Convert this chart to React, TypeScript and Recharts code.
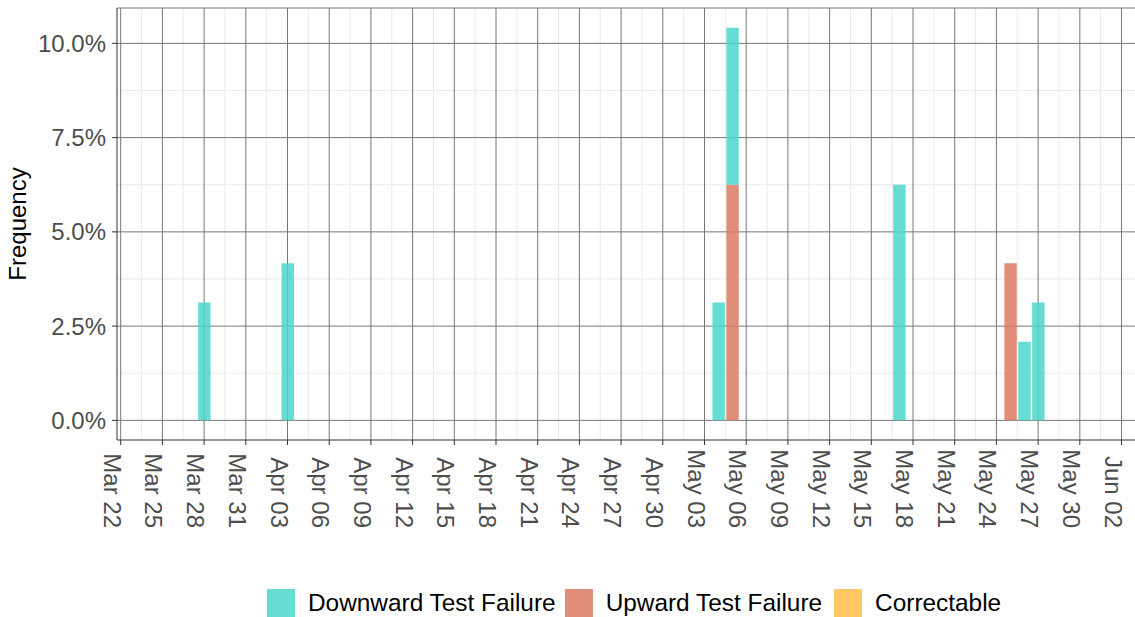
import React from "react";
import { BarChart, Bar, XAxis, YAxis, CartesianGrid } from "recharts";

// days with at least one failure (frequency in %)
const failureDates = [
  "2019-03-28",
  "2019-04-03",
  "2019-05-04",
  "2019-05-05",
  "2019-05-17",
  "2019-05-25",
  "2019-05-26",
  "2019-05-27",
];
const downwardPct = [3.125, 4.167, 3.125, 4.167, 6.25, 0, 2.083, 3.125];
const upwardPct = [0, 0, 0, 6.25, 0, 4.167, 0, 0];
const correctablePct = [0, 0, 0, 0, 0, 0, 0, 0];

const xTickLabels = [
  "Mar 22", "Mar 25", "Mar 28", "Mar 31", "Apr 03", "Apr 06", "Apr 09",
  "Apr 12", "Apr 15", "Apr 18", "Apr 21", "Apr 24", "Apr 27", "Apr 30",
  "May 03", "May 06", "May 09", "May 12", "May 15", "May 18", "May 21",
  "May 24", "May 27", "May 30", "Jun 02",
];
const yTicks = [0, 2.5, 5, 7.5, 10];
const yMinor = [1.25, 3.75, 6.25, 8.75];

const START = Date.UTC(2019, 2, 22);
const DAY = 86400000;
const toDay = (iso: string) => (Date.parse(iso + "T00:00:00Z") - START) / DAY;

const data = failureDates.map((d, i) => ({
  day: toDay(d),
  down: downwardPct[i],
  up: upwardPct[i],
  corr: correctablePct[i],
}));

const xTicks = xTickLabels.map((_, i) => i * 3);
const xMinor = xTicks.map((t) => t + 1.5);
const X_DOMAIN: [number, number] = [-0.266, 72.97];
const Y_DOMAIN: [number, number] = [-0.521, 10.938];

const DOWN = "#4BD7CA";
const UP = "#DA7A62";
const CORR = "#FFBE49";
const FONT = "'Liberation Sans', Arial, Helvetica, sans-serif";

const XTick = (props: any) => {
  const { x, y, payload } = props;
  const label = xTickLabels[Math.round(payload.value / 3)];
  return (
    <text
      x={x + (528 - y)}
      y={y + 17}
      transform={`rotate(90, ${x}, ${y})`}
      textAnchor="end"
      fill="#4d4d4d"
      fontSize={24}
      fontFamily={FONT}
    >
      {label}
    </text>
  );
};

const legendItems = [
  { name: "Downward Test Failure", color: DOWN },
  { name: "Upward Test Failure", color: UP },
  { name: "Correctable", color: CORR },
];
const legendGaps = [9, 12, 0];

export default function App() {
  return (
    <div style={{ position: "absolute", left: 0, top: 0, width: 1135, height: 617, fontFamily: FONT }}>
      <BarChart
        width={1135}
        height={617}
        data={data}
        margin={{ top: 8, right: 0, left: 0, bottom: 0 }}
      >
        <CartesianGrid
          stroke="#ebebeb"
          strokeWidth={1}
          verticalValues={xMinor}
          horizontalValues={yMinor}
        />
        <CartesianGrid
          stroke="#767676"
          strokeWidth={1}
          verticalValues={xTicks}
          horizontalValues={[...yTicks, Y_DOMAIN[1]]}
        />
        <XAxis
          type="number"
          dataKey="day"
          domain={X_DOMAIN}
          allowDataOverflow
          ticks={xTicks}
          interval={0}
          tick={<XTick />}
          tickSize={5}
          height={177}
          axisLine={{ stroke: "#333" }}
          tickLine={{ stroke: "#333" }}
        />
        <YAxis
          type="number"
          domain={Y_DOMAIN}
          allowDataOverflow
          ticks={yTicks}
          interval={0}
          width={117}
          tickSize={5}
          tickMargin={6}
          tickFormatter={(v: number) => `${v.toFixed(1)}%`}
          tick={{ fill: "#4d4d4d", fontSize: 24, fontFamily: FONT }}
          axisLine={{ stroke: "#333" }}
          tickLine={{ stroke: "#333" }}
          label={() => (
            <text
              x={26}
              y={224}
              transform="rotate(-90, 26, 224)"
              textAnchor="middle"
              fill="#000"
              fontSize={24}
              fontFamily={FONT}
            >
              Frequency
            </text>
          )}
        />
        <Bar dataKey="up" stackId="s" fill={UP} fillOpacity={0.85} barSize={12.4} isAnimationActive={false} />
        <Bar dataKey="down" stackId="s" fill={DOWN} fillOpacity={0.85} barSize={12.4} isAnimationActive={false} />
        <Bar dataKey="corr" stackId="s" fill={CORR} fillOpacity={0.85} barSize={12.4} isAnimationActive={false} />
      </BarChart>
      <div
        style={{
          position: "absolute",
          left: 267,
          top: 589,
          display: "flex",
          alignItems: "center",
          height: 28,
        }}
      >
        {legendItems.map((it, i) => (
          <div key={it.name} style={{ display: "flex", alignItems: "center", marginRight: legendGaps[i] }}>
            <div style={{ width: 28, height: 28, background: it.color, opacity: 0.85 }} />
            <span style={{ fontSize: 24.4, color: "#000", marginLeft: 13, whiteSpace: "nowrap" }}>{it.name}</span>
          </div>
        ))}
      </div>
    </div>
  );
}
